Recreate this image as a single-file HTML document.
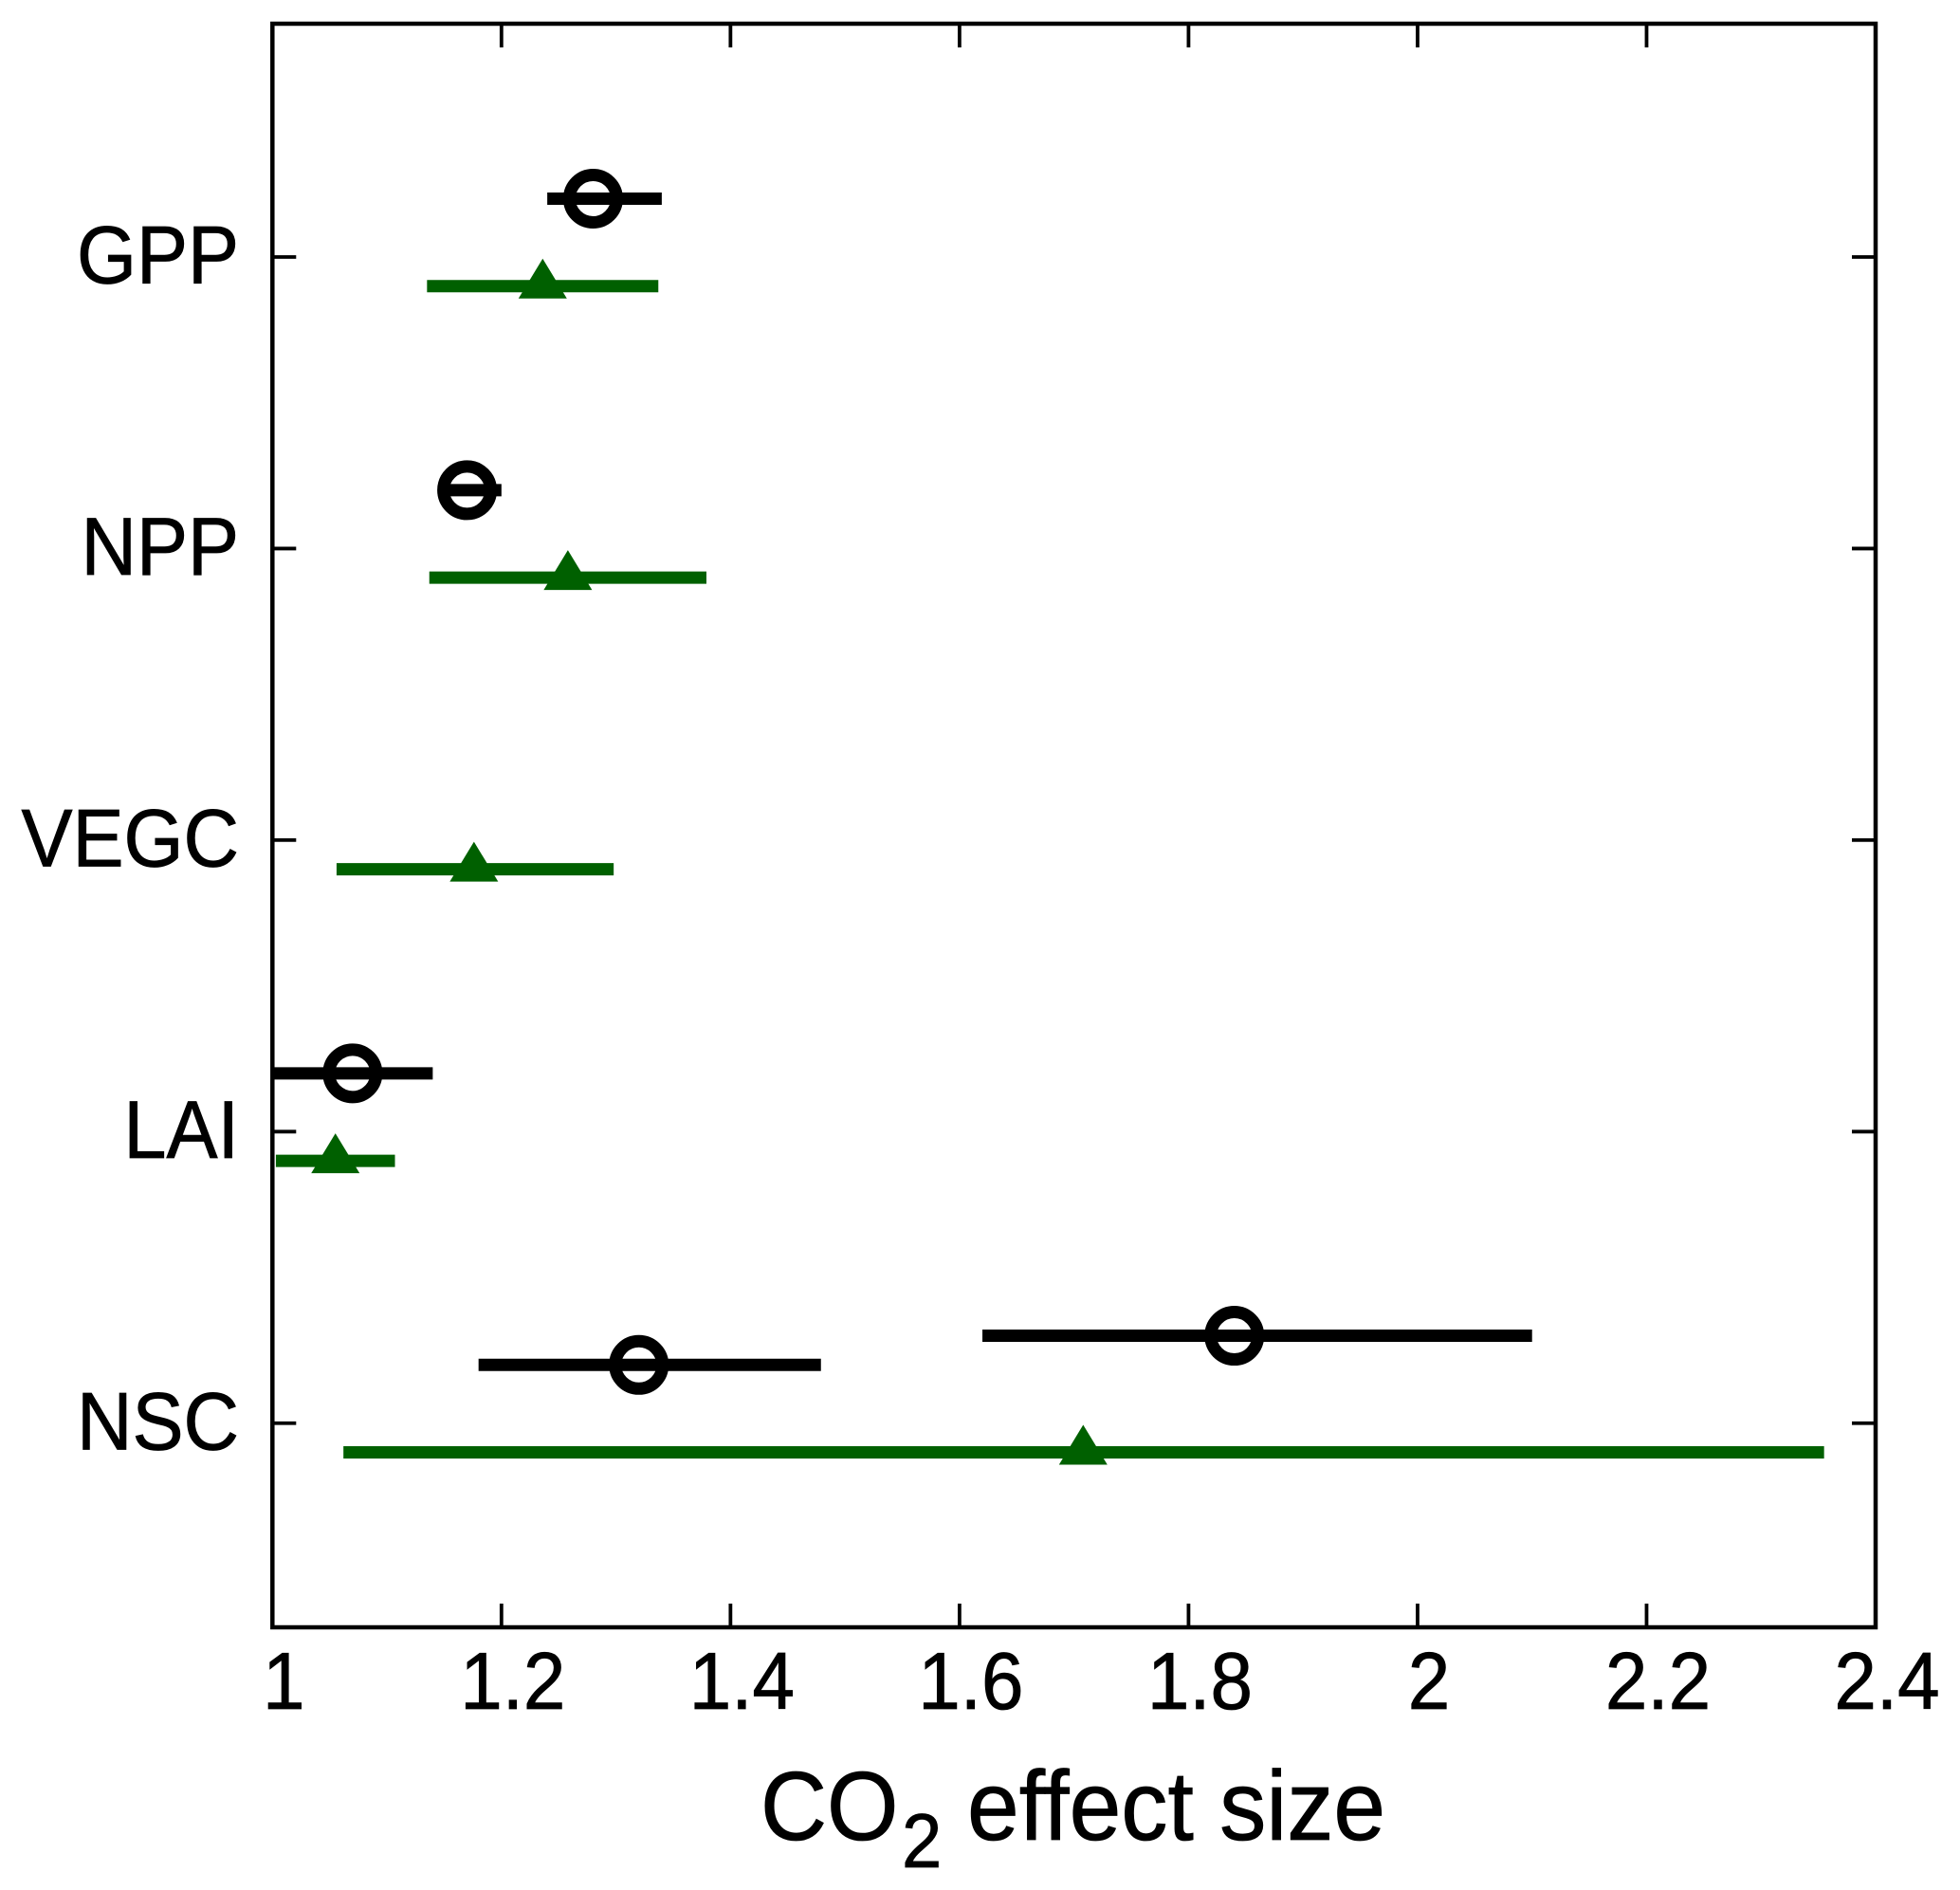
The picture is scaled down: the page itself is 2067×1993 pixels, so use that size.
<!DOCTYPE html>
<html lang="en">
<head>
<meta charset="utf-8">
<title>CO2 effect size</title>
<style>
html,body{margin:0;padding:0;background:#fff;}
svg{display:block;}
text{font-family:"Liberation Sans",Arial,sans-serif;fill:#000;stroke:#000;stroke-width:0.8;}
</style>
</head>
<body>
<svg id="chart" xmlns="http://www.w3.org/2000/svg" width="2067" height="1993" viewBox="0 0 2067 1993">
  <defs>
    <clipPath id="plot-clip"><rect x="287.3" y="25" width="1690.7" height="1691"></rect></clipPath>
  </defs>
  <rect x="0" y="0" width="2067" height="1993" fill="#fff"></rect>
  <g id="ticks"></g>
  <g id="marks" clip-path="url(#plot-clip)"></g>
  <rect x="287.3" y="25" width="1690.7" height="1691" fill="none" stroke="#000" stroke-width="4.5"></rect>
  <g id="labels"></g>
  <text transform="translate(0,1940) scale(1,1.06)" x="802" y="0" font-size="97">CO<tspan x="951" y="27.4" font-size="76">2</tspan><tspan x="1020" y="0" font-size="98.4">effect size</tspan></text>
</svg>
<script>
const categories = ['GPP', 'NPP', 'VEGC', 'LAI', 'NSC'];
const xTicks = [1, 1.2, 1.4, 1.6, 1.8, 2, 2.2, 2.4];
const xTickLabels = ['1', '1.2', '1.4', '1.6', '1.8', '2', '2.2', '2.4'];

const blackMean = [1.28, 1.17, null, 1.07, 1.32];
const blackLow = [1.24, 1.15, null, 1.0, 1.18];
const blackHigh = [1.34, 1.2, null, 1.14, 1.479];

const greenMean = [1.236, 1.258, 1.176, 1.055, 1.708];
const greenLow = [1.135, 1.137, 1.056, 1.003, 1.062];
const greenHigh = [1.337, 1.379, 1.298, 1.107, 2.355];

const extraBlackCategory = ['NSC'];
const extraBlackMean = [1.84];
const extraBlackLow = [1.62];
const extraBlackHigh = [2.10];

const xDomain = [1, 2.4];
const yDomain = [-0.7, 4.8];
const plotLeft = 287.3, plotRight = 1978, plotTop = 25, plotBottom = 1716;
const blackOffset = 0.2, greenOffset = -0.1, extraBlackOffset = 0.3;

function xScale(v) {
  return plotLeft + (v - xDomain[0]) / (xDomain[1] - xDomain[0]) * (plotRight - plotLeft);
}
function yScale(v) {
  return plotBottom - (v - yDomain[0]) / (yDomain[1] - yDomain[0]) * (plotBottom - plotTop);
}
function catPos(i) {
  return categories.length - 1 - i;
}

const NS = 'http://www.w3.org/2000/svg';
const ticksG = document.getElementById('ticks');
const marksG = document.getElementById('marks');
const labelsG = document.getElementById('labels');

function make(tag, attrs, parent) {
  const el = document.createElementNS(NS, tag);
  for (const k in attrs) el.setAttribute(k, attrs[k]);
  parent.appendChild(el);
  return el;
}

const tickLen = 25;
const tickW = 3.8;

xTicks.forEach(function (t, i) {
  const x = xScale(t);
  if (i > 0 && i < xTicks.length - 1) {
    const bottomTick = make('line', {x1: x, x2: x, y1: plotBottom, y2: plotBottom - tickLen, stroke: '#000', 'stroke-width': tickW}, ticksG);
    
    
    const topTick = make('line', {x1: x, x2: x, y1: plotTop, y2: plotTop + tickLen, stroke: '#000', 'stroke-width': tickW}, ticksG);
    
    
  }
  const label = make('text', {transform: 'translate(' + (x + 12) + ',1802) scale(1,1.07)', x: 0, y: 0, 'font-size': 80, 'text-anchor': 'middle'}, labelsG);
  
  
  label.textContent = xTickLabels[i];
});

categories.forEach(function (c, i) {
  const y = yScale(catPos(i));
  const leftTick = make('line', {x1: plotLeft, x2: plotLeft + tickLen, y1: y, y2: y, stroke: '#000', 'stroke-width': tickW}, ticksG);
  
  
  const rightTick = make('line', {x1: plotRight, x2: plotRight - tickLen, y1: y, y2: y, stroke: '#000', 'stroke-width': tickW}, ticksG);
  
  
  const label = make('text', {transform: 'translate(252,' + (y + 27.7) + ') scale(1,1.07)', x: 0, y: 0, 'font-size': 81, 'text-anchor': 'end'}, labelsG);
  
  
  label.textContent = c;
});

function drawBlack(pos, mean, low, high) {
  const y = yScale(pos);
  const bar = make('line', {x1: xScale(low), x2: xScale(high), y1: y, y2: y, stroke: '#000', 'stroke-width': 13}, marksG);
  
  
  const ring = make('circle', {cx: xScale(mean), cy: y, r: 25, fill: 'none', stroke: '#000', 'stroke-width': 13}, marksG);
  
  
}

function drawGreen(pos, mean, low, high) {
  const y = yScale(pos);
  const bar = make('line', {x1: xScale(low), x2: xScale(high), y1: y, y2: y, stroke: '#006000', 'stroke-width': 13}, marksG);
  
  
  const cx = xScale(mean);
  const pts = [[cx, y - 29], [cx + 25.5, y + 13], [cx - 25.5, y + 13]].map(function (p) { return p.join(','); }).join(' ');
  const tri = make('polygon', {points: pts, fill: '#006000'}, marksG);
  
  
}

categories.forEach(function (c, i) {
  if (blackMean[i] !== null) {
    drawBlack(catPos(i) + blackOffset, blackMean[i], blackLow[i], blackHigh[i]);
  }
  if (greenMean[i] !== null) {
    drawGreen(catPos(i) + greenOffset, greenMean[i], greenLow[i], greenHigh[i]);
  }
});

extraBlackCategory.forEach(function (c, j) {
  const i = categories.indexOf(c);
  drawBlack(catPos(i) + extraBlackOffset, extraBlackMean[j], extraBlackLow[j], extraBlackHigh[j]);
});
</script>
</body>
</html>
